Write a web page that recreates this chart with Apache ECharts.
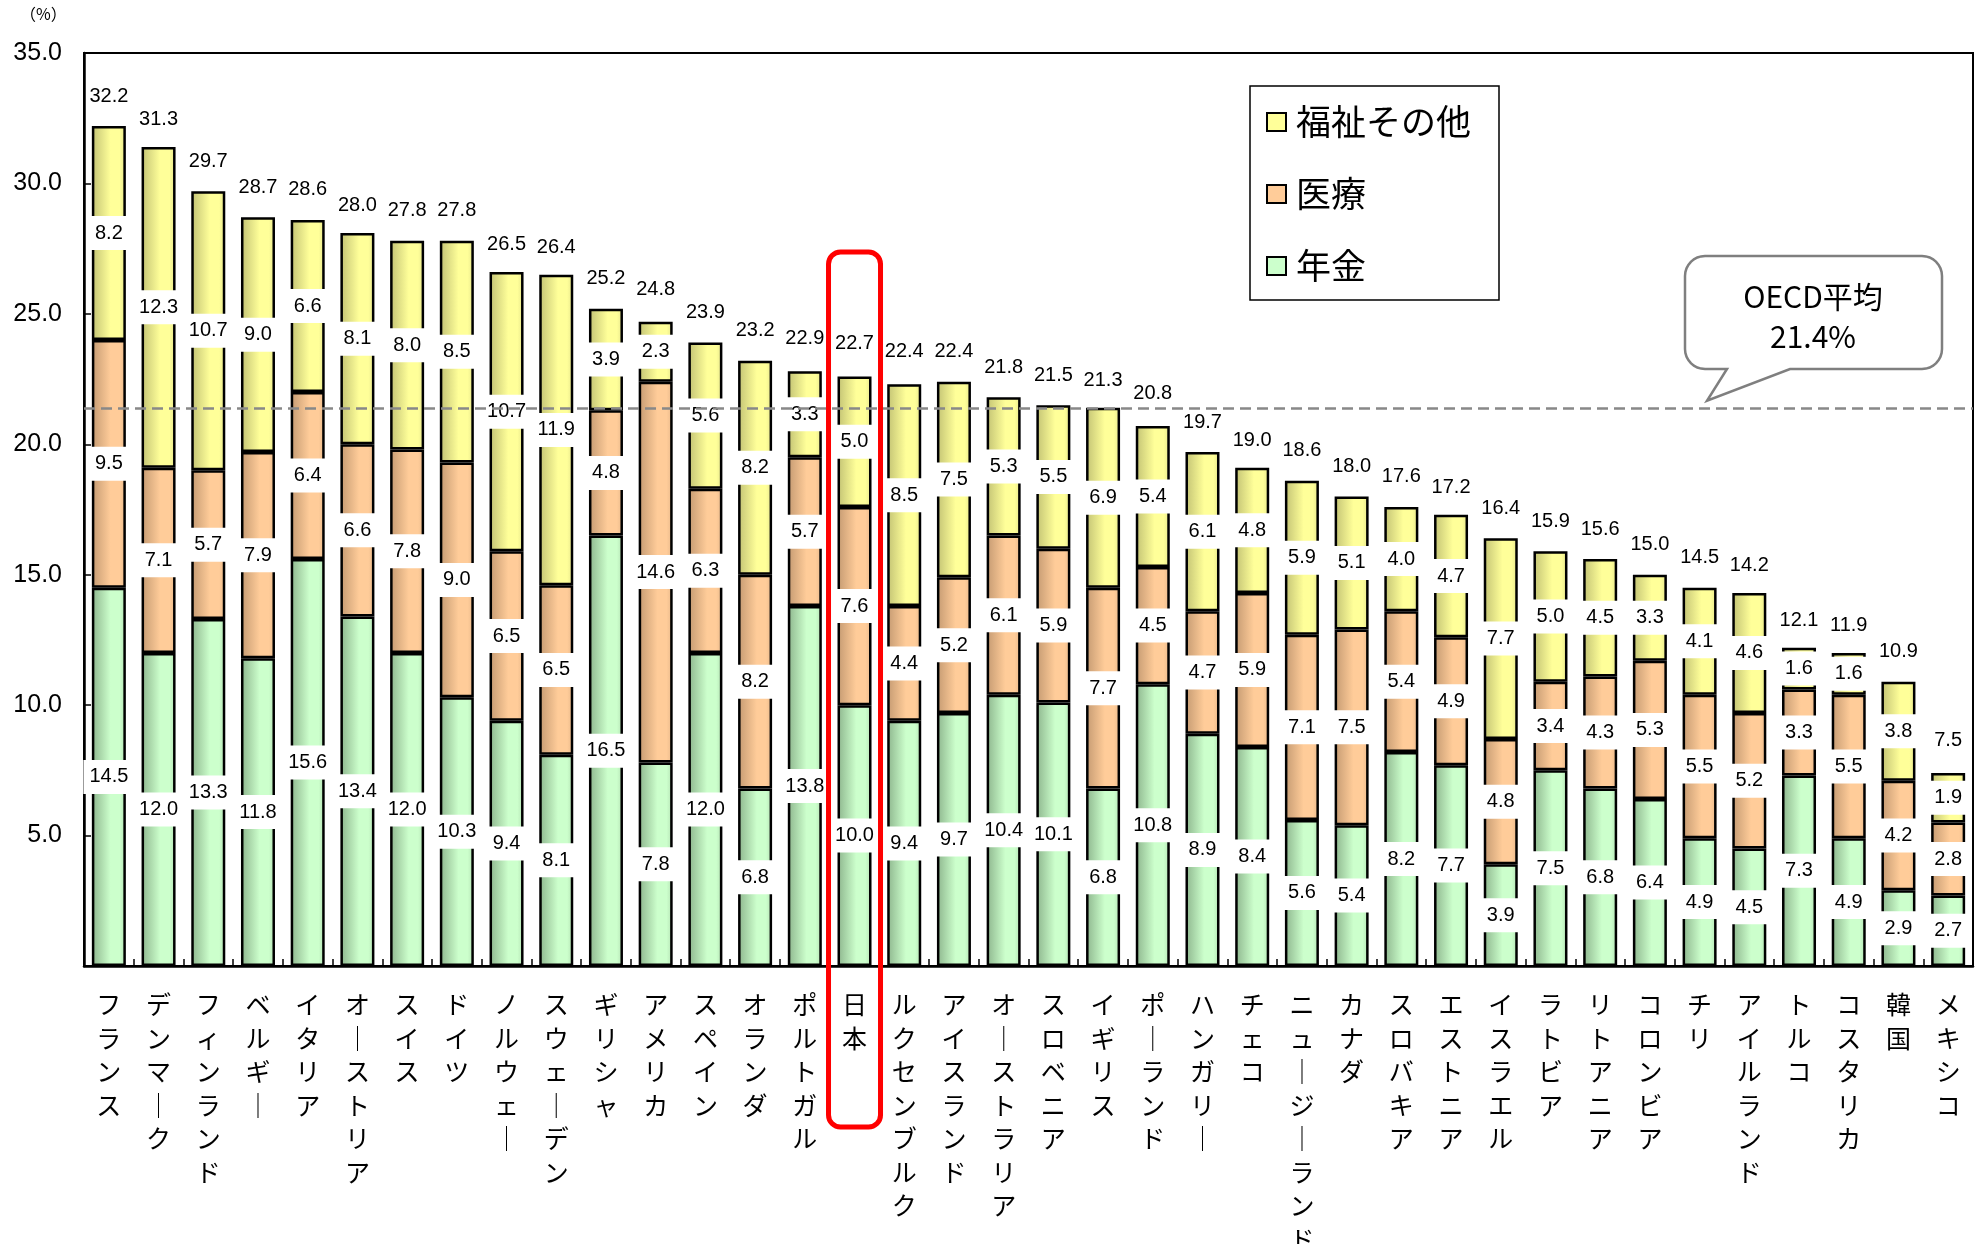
<!DOCTYPE html>
<html>
<head>
<meta charset="utf-8">
<script src="https://cdn.jsdelivr.net/npm/echarts@6/dist/echarts.min.js"></script>
<style>
html,body{margin:0;padding:0;background:#fff;}
#chart{width:1986px;height:1244px;}
</style>
</head>
<body>
<div id="chart"></div>
<script>
const categories = ['フランス','デンマーク','フィンランド','ベルギー','イタリア','オーストリア','スイス','ドイツ','ノルウェー','スウェーデン','ギリシャ','アメリカ','スペイン','オランダ','ポルトガル','日本','ルクセンブルク','アイスランド','オーストラリア','スロベニア','イギリス','ポーランド','ハンガリー','チェコ','ニュージーランド','カナダ','スロバキア','エストニア','イスラエル','ラトビア','リトアニア','コロンビア','チリ','アイルランド','トルコ','コスタリカ','韓国','メキシコ'];
const pension = [14.5,12.0,13.3,11.8,15.6,13.4,12.0,10.3,9.4,8.1,16.5,7.8,12.0,6.8,13.8,10.0,9.4,9.7,10.4,10.1,6.8,10.8,8.9,8.4,5.6,5.4,8.2,7.7,3.9,7.5,6.8,6.4,4.9,4.5,7.3,4.9,2.9,2.7];
const medical = [9.5,7.1,5.7,7.9,6.4,6.6,7.8,9.0,6.5,6.5,4.8,14.6,6.3,8.2,5.7,7.6,4.4,5.2,6.1,5.9,7.7,4.5,4.7,5.9,7.1,7.5,5.4,4.9,4.8,3.4,4.3,5.3,5.5,5.2,3.3,5.5,4.2,2.8];
const welfare = [8.2,12.3,10.7,9.0,6.6,8.1,8.0,8.5,10.7,11.9,3.9,2.3,5.6,8.2,3.3,5.0,8.5,7.5,5.3,5.5,6.9,5.4,6.1,4.8,5.9,5.1,4.0,4.7,7.7,5.0,4.5,3.3,4.1,4.6,1.6,1.6,3.8,1.9];
const totals = [32.2,31.3,29.7,28.7,28.6,28.0,27.8,27.8,26.5,26.4,25.2,24.8,23.9,23.2,22.9,22.7,22.4,22.4,21.8,21.5,21.3,20.8,19.7,19.0,18.6,18.0,17.6,17.2,16.4,15.9,15.6,15.0,14.5,14.2,12.1,11.9,10.9,7.5];
const oecdAverage = 21.4;
const seriesNames = ['年金','医療','福祉その他'];
const legendOrder = ['福祉その他','医療','年金'];
const highlightCountry = '日本';

const NUM_FONT = '"Liberation Sans", Arial, sans-serif';
const JP_FONT = '"Noto Sans CJK JP", sans-serif';

function grad(dark, light, mid) {
  return new echarts.graphic.LinearGradient(0, 0, 1, 0, [
    {offset: 0, color: dark},
    {offset: 0.55, color: light},
    {offset: 0.82, color: light},
    {offset: 1, color: mid}
  ]);
}
const palette = {
  '年金': {light: '#CCFFCC', dark: '#8DB58D', mid: '#B4E2B4'},
  '医療': {light: '#FFCC99', dark: '#C49A72', mid: '#E8B98B'},
  '福祉その他': {light: '#FFFF99', dark: '#C2C274', mid: '#E6E68C'}
};

const segLabel = {
  show: true,
  position: 'inside',
  formatter: p => p.value.toFixed(1),
  fontFamily: NUM_FONT,
  fontSize: 20,
  lineHeight: 20,
  color: '#000',
  backgroundColor: '#fff',
  padding: [7, 6]
};

function barSeries(name, data) {
  const c = palette[name];
  return {
    name: name,
    type: 'bar',
    stack: 'total',
    barWidth: 34,
    data: data,
    itemStyle: {color: grad(c.dark, c.light, c.mid), borderColor: '#000', borderWidth: 2.5},
    label: segLabel,
    emphasis: {disabled: true},
    z: 3
  };
}

const chart = echarts.init(document.getElementById('chart'), null, {renderer: 'canvas'});

const series = [
  barSeries('年金', pension),
  barSeries('医療', medical),
  barSeries('福祉その他', welfare),
  {
    name: '合計',
    type: 'bar',
    barWidth: 34,
    barGap: '-100%',
    data: totals,
    silent: true,
    itemStyle: {color: 'rgba(0,0,0,0)'},
    label: {
      show: true,
      position: 'top',
      distance: 20,
      formatter: p => p.value.toFixed(1),
      fontFamily: NUM_FONT,
      fontSize: 20,
      color: '#000'
    },
    z: 10,
    markLine: {
      silent: true,
      symbol: ['none', 'none'],
      label: {show: false},
      lineStyle: {color: '#888', width: 2.5, type: [11, 6]},
      data: [{yAxis: oecdAverage}],
      z: 10
    }
  }
];

chart.setOption({
  animation: false,
  backgroundColor: '#fff',
  grid: {
    left: 84, right: 13, top: 53, bottom: 278,
    show: true, borderColor: '#000', borderWidth: 2,
    outerBoundsMode: 'none'
  },
  legend: {
    data: legendOrder.map(n => ({
      name: n,
      icon: 'rect',
      itemStyle: {color: palette[n].light, borderColor: '#000', borderWidth: 2}
    })),
    orient: 'vertical',
    left: 1250,
    top: 86,
    itemWidth: 19,
    itemHeight: 18,
    itemGap: 36,
    padding: [18, 28, 16, 16],
    borderColor: '#000',
    borderWidth: 1.5,
    backgroundColor: '#fff',
    selectedMode: false,
    textStyle: {fontFamily: JP_FONT, fontSize: 35, lineHeight: 36, color: '#000', padding: [0, 0, 0, 5]}
  },
  xAxis: {
    type: 'category',
    data: categories,
    axisLine: {lineStyle: {color: '#000', width: 2.5}},
    axisTick: {show: true, inside: true, length: 7, lineStyle: {color: '#000', width: 1.5}},
    axisLabel: {
      interval: 0,
      margin: 22,
      fontFamily: JP_FONT,
      fontSize: 25,
      lineHeight: 33.5,
      color: '#000',
      formatter: v => v.replace(/ー/g, '｜').split('').join('\n')
    }
  },
  yAxis: {
    type: 'value',
    min: 0, max: 35, interval: 5,
    splitLine: {show: false},
    axisLine: {show: true, lineStyle: {color: '#000', width: 2.5}},
    axisTick: {show: true, inside: true, length: 7, lineStyle: {color: '#000', width: 1.5}},
    axisLabel: {
      margin: 22,
      fontFamily: NUM_FONT,
      fontSize: 25,
      color: '#000',
      formatter: v => v === 0 ? '' : v.toFixed(1)
    }
  },
  series: series
});

// annotations positioned from the chart's own scales
const jx = chart.convertToPixel({xAxisIndex: 0}, highlightCountry);
const oy = chart.convertToPixel({yAxisIndex: 0}, oecdAverage);
const L = 1685, R = 1942, T = 256, B = 369, r = 20;
const bl = 1727, br = 1790, tipX = 1707, tipY = oy - 7;

function arcPts(cx, cy, rad, a0, a1) {
  const pts = [];
  const n = 8;
  for (let i = 0; i <= n; i++) {
    const a = a0 + (a1 - a0) * i / n;
    pts.push([cx + rad * Math.cos(a), cy + rad * Math.sin(a)]);
  }
  return pts;
}
const PI = Math.PI;
const calloutPts = [].concat(
  arcPts(L + r, T + r, r, PI, 1.5 * PI),
  arcPts(R - r, T + r, r, 1.5 * PI, 2 * PI),
  arcPts(R - r, B - r, r, 0, 0.5 * PI),
  [[br, B], [tipX, tipY], [bl, B]],
  arcPts(L + r, B - r, r, 0.5 * PI, PI)
);

chart.setOption({
  graphic: [
    {
      type: 'text', left: 20, top: 6,
      style: {text: '（%）', font: '16px ' + JP_FONT, fill: '#000'}
    },
    {
      type: 'rect', z: 100,
      shape: {x: jx - 26, y: 252, width: 52, height: 875, r: 12},
      style: {fill: 'none', stroke: '#FF0000', lineWidth: 5}
    },
    {
      type: 'polygon', z: 90,
      shape: {points: calloutPts},
      style: {fill: '#fff', stroke: '#7f7f7f', lineWidth: 2.5}
    },
    {
      type: 'text', z: 95, x: 1813, y: 297,
      style: {text: 'OECD平均', font: '30px ' + JP_FONT, fill: '#000', textAlign: 'center', textVerticalAlign: 'middle', align: 'center', verticalAlign: 'middle'}
    },
    {
      type: 'text', z: 95, x: 1813, y: 337,
      style: {text: oecdAverage.toFixed(1) + '%', font: '30px ' + JP_FONT, fill: '#000', textAlign: 'center', textVerticalAlign: 'middle', align: 'center', verticalAlign: 'middle'}
    }
  ]
});
</script>
</body>
</html>
